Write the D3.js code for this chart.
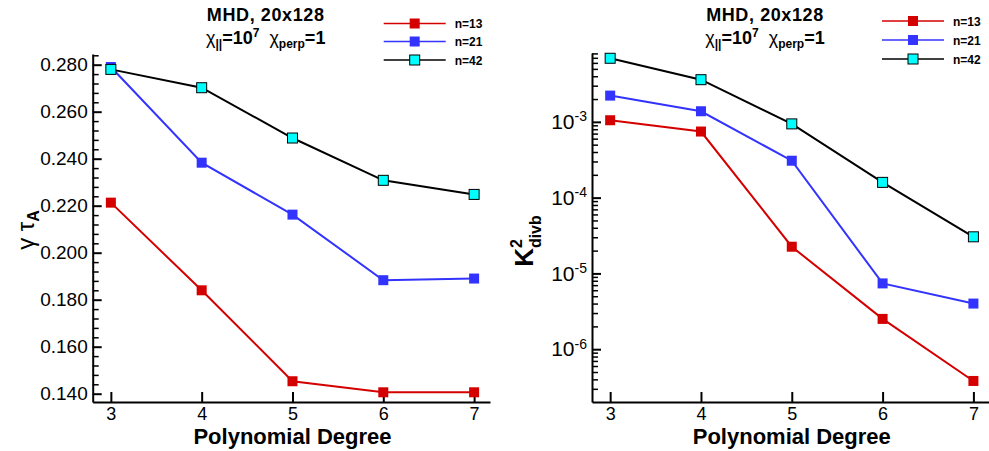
<!DOCTYPE html>
<html>
<head>
<meta charset="utf-8">
<script src="https://cdn.jsdelivr.net/npm/d3@7"></script>
<style>
 body { margin: 0; background: #fff; }
 svg text { font-family: "Liberation Sans", Arial, sans-serif; fill: #000; }
</style>
</head>
<body>
<svg width="989" height="451"></svg>
<script>
// data
var degrees = [3, 4, 5, 6, 7];
var seriesNames = ["n=13", "n=21", "n=42"];
var gamma13 = [0.2213, 0.1840, 0.1453, 0.1406, 0.1406];
var gamma21 = [0.2790, 0.2383, 0.2162, 0.1883, 0.1890];
var gamma42 = [0.2780, 0.2702, 0.2488, 0.2308, 0.2248];
var divb13 = [1.05e-3, 7.45e-4, 2.25e-5, 2.51e-6, 3.81e-7];
var divb21 = [2.22e-3, 1.38e-3, 3.07e-4, 7.38e-6, 4.0e-6];
var divb42 = [6.9e-3, 3.6e-3, 9.4e-4, 1.59e-4, 3.04e-5];
var gammaTicks = [0.140, 0.160, 0.180, 0.200, 0.220, 0.240, 0.260, 0.280];
var divbTicks = [1e-6, 1e-5, 1e-4, 1e-3];

var colors = ["#d40000", "#3333ff", "#000000"];
var fills = ["#d40000", "#3333ff", "#00ffff"];

var svg = d3.select("svg");

function drawPanel(opt) {
 var g = svg.append("g").attr("transform", "translate(" + opt.left + ",0)");
 var x = d3.scaleLinear().domain([2.8, 7.175]).range([0, 397.3]);
 var y = opt.y;

 // minor ticks first
 g.append("g")
  .attr("class", "minor")
  .call(d3.axisLeft(y).tickValues(opt.minor).tickSize(-6).tickFormat(""))
  .call(function(s) { s.select(".domain").remove(); })
  .selectAll("line").attr("stroke-width", 1.5);

 var ya = g.append("g")
  .attr("class", "y axis")
  .call(d3.axisLeft(y).tickValues(opt.major).tickSize(-9).tickSizeOuter(0)
   .tickPadding(5).tickFormat(opt.format));
 ya.select(".domain").attr("stroke-width", 2);
 ya.selectAll(".tick line").attr("stroke-width", 2);
 ya.selectAll(".tick text").attr("font-size", "19px");

 var xa = g.append("g")
  .attr("class", "x axis")
  .attr("transform", "translate(0," + opt.bottom + ")")
  .call(d3.axisBottom(x).tickValues(degrees).tickSize(-10).tickSizeOuter(0)
   .tickPadding(5).tickFormat(d3.format("d")));
 xa.select(".domain").attr("stroke-width", 2);
 xa.selectAll(".tick line").attr("stroke-width", 2);
 xa.selectAll(".tick text").attr("font-size", "18px");

 if (opt.log) {
  ya.selectAll(".tick text").each(function(d) {
   var t = d3.select(this).text("").attr("font-size", "21px");
   t.append("tspan").text("10");
   t.append("tspan").attr("font-size", "14px").attr("dy", "-0.55em")
    .text(Math.round(Math.log10(d)));
  });
 }

 // x title
 g.append("text")
  .attr("x", x(5))
  .attr("y", 444)
  .attr("text-anchor", "middle")
  .attr("font-size", "22px")
  .attr("font-weight", "bold")
  .text("Polynomial Degree");

 // lines + markers
 var line = d3.line()
  .x(function(d, i) { return x(degrees[i]); })
  .y(function(d) { return y(d); });

 opt.series.forEach(function(s, k) {
  g.append("path")
   .datum(s)
   .attr("fill", "none")
   .attr("stroke", colors[k])
   .attr("stroke-width", 2)
   .attr("d", line);
  g.selectAll(".m" + k)
   .data(s)
   .enter()
   .append("rect")
   .attr("class", "m" + k)
   .attr("x", function(d, i) { return x(degrees[i]) - 5; })
   .attr("y", function(d) { return y(d) - 5; })
   .attr("width", 10)
   .attr("height", 10)
   .attr("fill", fills[k])
   .attr("stroke", k == 2 ? "#000" : "none")
   .attr("stroke-width", 1);
 });

 // title
 var tx = 173;
 g.append("text")
  .attr("x", tx)
  .attr("y", 21)
  .attr("text-anchor", "middle")
  .attr("font-size", "18px")
  .attr("font-weight", "bold")
  .attr("letter-spacing", "0.6px")
  .text("MHD, 20x128");
 var t2 = g.append("text")
  .attr("x", tx)
  .attr("y", 44)
  .attr("text-anchor", "middle")
  .attr("font-size", "18px")
  .attr("font-weight", "bold");
 t2.append("tspan").attr("font-weight", "normal").text("\u03c7");
 t2.append("tspan").attr("font-size", "12px").attr("dy", 4).text("||");
 t2.append("tspan").attr("dy", -4).text("=10");
 t2.append("tspan").attr("font-size", "12px").attr("dy", -7).text("7");
 t2.append("tspan").attr("dy", 7).attr("font-weight", "normal").text("\u00a0\u00a0\u03c7");
 t2.append("tspan").attr("font-size", "12px").attr("dy", 4).text("perp");
 t2.append("tspan").attr("dy", -4).text("=1");

 // legend
 var lg = g.append("g").attr("transform", "translate(" + opt.legendX + ",0)");
 seriesNames.forEach(function(name, k) {
  var ly = opt.legendY[k];
  lg.append("line")
   .attr("x1", 0).attr("x2", 62)
   .attr("y1", ly).attr("y2", ly)
   .attr("stroke", colors[k])
   .attr("stroke-width", 1.5);
  lg.append("rect")
   .attr("x", 26).attr("y", ly - 5)
   .attr("width", 10).attr("height", 10)
   .attr("fill", fills[k])
   .attr("stroke", k == 2 ? "#000" : "none");
  lg.append("text")
   .attr("x", 71).attr("y", ly + 4.5)
   .attr("font-size", "12px")
   .attr("font-weight", "bold")
   .text(name);
 });

 return g;
}

var yLeft = d3.scaleLinear().domain([0.13647, 0.28455]).range([402, 54]);
var leftMinor = d3.range(0.136, 0.2846, 0.004).filter(function(v) {
 return v >= 0.1365 && Math.abs(v / 0.02 - Math.round(v / 0.02)) > 0.01;
});
var gl = drawPanel({
 left: 92.7, y: yLeft, bottom: 402, log: false,
 major: gammaTicks, minor: leftMinor, format: d3.format(".3f"),
 series: [gamma13, gamma21, gamma42],
 legendX: 291, legendY: [23.5, 41.5, 60]
});

var yRight = d3.scaleLog().domain([2.01e-7, 8.1e-3]).range([402, 53]);
var rightMinor = yRight.ticks().filter(function(v) {
 var e = Math.log10(v);
 return Math.abs(e - Math.round(e)) > 0.01;
});
var gr = drawPanel({
 left: 592, y: yRight, bottom: 402, log: true,
 major: divbTicks, minor: rightMinor, format: function(d) { return d; },
 series: [divb13, divb21, divb42],
 legendX: 290, legendY: [21, 40, 59]
});

// y axis titles
var yt = svg.append("text")
 .attr("transform", "translate(34,230) rotate(-90)")
 .attr("text-anchor", "middle")
 .attr("font-size", "24px");
yt.append("tspan").text("\u03b3 \u03c4");
yt.append("tspan").attr("font-size", "16px").attr("font-weight", "bold").attr("dy", 5).text("A");

var yt2 = svg.append("text")
 .attr("transform", "translate(533,241) rotate(-90)")
 .attr("text-anchor", "middle")
 .attr("font-size", "26px")
 .attr("font-weight", "bold");
yt2.append("tspan").text("K");
yt2.append("tspan").attr("font-size", "16px").attr("dy", -11).text("2");
yt2.append("tspan").attr("font-size", "16px").attr("dx", -9).attr("dy", 19).text("divb");
</script>
</body>
</html>
